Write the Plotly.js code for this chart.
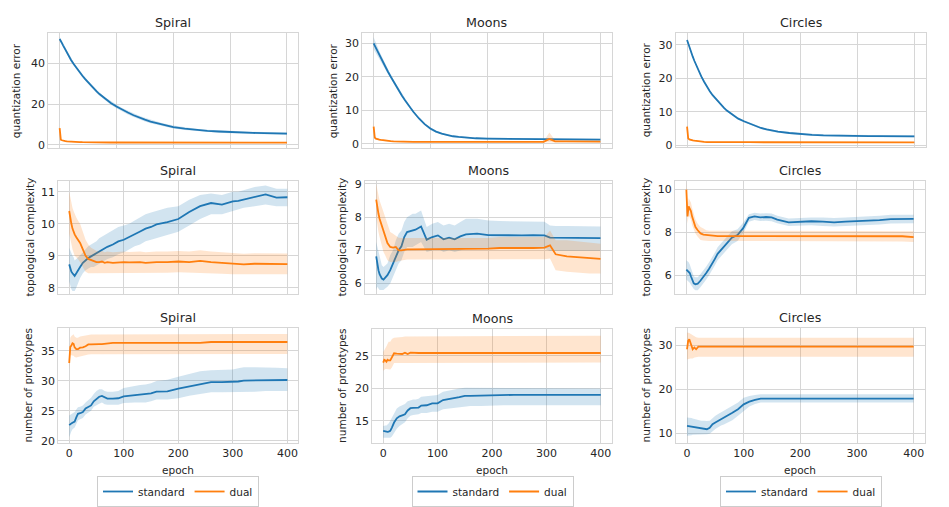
<!DOCTYPE html>
<html>
<head>
<meta charset="utf-8">
<script src="https://cdn.plot.ly/plotly-3.0.1.min.js"></script>
<style>
  html, body { margin: 0; padding: 0; background: #fff; }
  #chart { width: 949px; height: 507px; }
</style>
</head>
<body>
<div id="chart"></div>
<script>
// ============================================================================
// 3x3 grid: quantization error / topological complexity / number of prototypes
// for the Spiral, Moons and Circles datasets, standard vs dual, mean line with
// a shaded spread band. Values at the epochs
// listed in EPOCH.
// ============================================================================

const EPOCH = [0, 2, 4, 6, 8, 10, 13, 16, 20, 25, 30, 35, 40, 45, 50, 55, 60, 65, 70, 80, 90, 100, 110, 120, 130, 140, 150, 160, 180, 200, 220, 240, 260, 280, 300, 310, 320, 340, 360, 380, 400];
const X_TICKS = [0, 100, 200, 300, 400];

// --- quantization error ---
const spiralQeStd   = [52, 51.2, 50, 48.9, 47.8, 46.8, 45.3, 43.9, 41.7, 39.6, 37.6, 35.7, 34, 32.3, 30.7, 29.2, 27.7, 26.3, 25, 22.6, 20.6, 18.9, 17.3, 15.9, 14.6, 13.4, 12.4, 11.5, 10, 8.8, 8, 7.4, 6.9, 6.6, 6.3, 6.2, 6.1, 5.9, 5.8, 5.7, 5.6];
const spiralQeStdLo = [51, 50.4, 49.3, 48.2, 47.1, 46.1, 44.6, 43.1, 40.9, 38.8, 36.8, 34.9, 33.2, 31.5, 29.9, 28.4, 26.9, 25.5, 24.2, 21.8, 19.7, 18, 16.4, 15, 13.7, 12.5, 11.5, 10.6, 9.2, 8.1, 7.3, 6.8, 6.3, 6, 5.7, 5.6, 5.5, 5.3, 5.2, 5.1, 5];
const spiralQeStdHi = [53, 52, 50.7, 49.6, 48.5, 47.5, 46, 44.7, 42.5, 40.4, 38.4, 36.5, 34.8, 33.1, 31.5, 30, 28.5, 27.1, 25.8, 23.4, 21.5, 19.8, 18.2, 16.8, 15.5, 14.3, 13.3, 12.4, 10.8, 9.5, 8.7, 8, 7.5, 7.2, 6.9, 6.8, 6.7, 6.5, 6.4, 6.3, 6.2];
const spiralQeDual   = [8.3, 2.6, 2.3, 2.1, 2, 1.9, 1.8, 1.7, 1.6, 1.5, 1.45, 1.4, 1.35, 1.3, 1.3, 1.25, 1.25, 1.2, 1.2, 1.2, 1.2, 1.2, 1.2, 1.2, 1.2, 1.2, 1.2, 1.2, 1.2, 1.2, 1.2, 1.15, 1.15, 1.15, 1.15, 1.15, 1.1, 1.1, 1.1, 1.1, 1.1];
const spiralQeDualLo = [7.3, 2.2, 2, 1.8, 1.7, 1.6, 1.5, 1.45, 1.35, 1.3, 1.25, 1.2, 1.15, 1.1, 1.1, 1.05, 1.05, 1, 1, 1, 1, 1, 1, 1, 1, 1, 1, 1, 1, 1, 1, 0.95, 0.95, 0.95, 0.95, 0.95, 0.9, 0.9, 0.9, 0.9, 0.9];
const spiralQeDualHi = [9.3, 3, 2.6, 2.4, 2.3, 2.2, 2.1, 1.95, 1.85, 1.7, 1.65, 1.6, 1.55, 1.5, 1.5, 1.45, 1.45, 1.4, 1.4, 1.4, 1.4, 1.4, 1.4, 1.4, 1.4, 1.4, 1.4, 1.4, 1.4, 1.4, 1.4, 1.35, 1.35, 1.35, 1.35, 1.35, 1.3, 1.3, 1.3, 1.3, 1.3];

const moonsQeStd   = [30, 29.3, 28.6, 27.9, 27.2, 26.5, 25.5, 24.5, 23.2, 21.6, 20.1, 18.6, 17.2, 15.8, 14.4, 13.1, 11.9, 10.7, 9.6, 7.6, 5.9, 4.6, 3.7, 3.1, 2.6, 2.3, 2.1, 1.9, 1.7, 1.6, 1.55, 1.5, 1.45, 1.4, 1.4, 1.35, 1.35, 1.3, 1.3, 1.3, 1.3];
const moonsQeStdLo = [28.2, 27.7, 27.1, 26.5, 25.9, 25.3, 24.4, 23.5, 22.3, 20.8, 19.4, 18, 16.6, 15.3, 13.9, 12.7, 11.5, 10.4, 9.3, 7.3, 5.6, 4.2, 3.4, 2.8, 2.35, 2.05, 1.85, 1.65, 1.45, 1.35, 1.3, 1.25, 1.2, 1.15, 1.15, 1.1, 1.1, 1.05, 1.05, 1.05, 1.05];
const moonsQeStdHi = [31.8, 30.9, 30.1, 29.3, 28.5, 27.7, 26.6, 25.5, 24.1, 22.4, 20.8, 19.2, 17.8, 16.3, 14.9, 13.5, 12.3, 11, 9.9, 7.9, 6.2, 5, 4, 3.4, 2.85, 2.55, 2.35, 2.15, 1.95, 1.85, 1.8, 1.75, 1.7, 1.65, 1.65, 1.6, 1.6, 1.55, 1.55, 1.55, 1.55];
const moonsQeDual   = [5.2, 1.9, 1.6, 1.45, 1.35, 1.3, 1.2, 1.1, 1, 0.9, 0.85, 0.8, 0.75, 0.7, 0.7, 0.68, 0.66, 0.65, 0.64, 0.62, 0.6, 0.6, 0.6, 0.6, 0.6, 0.6, 0.6, 0.6, 0.6, 0.6, 0.6, 0.6, 0.6, 0.6, 0.62, 1.5, 0.8, 0.75, 0.72, 0.7, 0.7];
const moonsQeDualLo = [3.5, 1.5, 1.3, 1.2, 1.1, 1.05, 1, 0.9, 0.8, 0.72, 0.68, 0.63, 0.6, 0.55, 0.55, 0.53, 0.51, 0.5, 0.49, 0.47, 0.45, 0.45, 0.45, 0.45, 0.45, 0.45, 0.45, 0.45, 0.45, 0.45, 0.45, 0.45, 0.45, 0.45, 0.45, 0.6, 0.55, 0.55, 0.52, 0.5, 0.5];
const moonsQeDualHi = [7.2, 2.4, 1.95, 1.75, 1.6, 1.55, 1.4, 1.3, 1.2, 1.08, 1.02, 0.97, 0.9, 0.85, 0.85, 0.83, 0.81, 0.8, 0.79, 0.77, 0.75, 0.75, 0.75, 0.75, 0.75, 0.75, 0.75, 0.75, 0.75, 0.75, 0.75, 0.75, 0.75, 0.75, 0.8, 3.4, 1.1, 0.95, 0.92, 0.9, 0.9];

const circlesQeStd   = [31.5, 30.4, 29.4, 28.4, 27.5, 26.5, 25.2, 23.9, 22.3, 20.6, 19, 17.5, 16.2, 15, 14, 12.9, 12, 11.2, 10.4, 9.1, 8, 7.2, 6.5, 5.7, 5.2, 4.75, 4.4, 4.1, 3.7, 3.35, 3.15, 3, 2.9, 2.85, 2.8, 2.8, 2.78, 2.75, 2.72, 2.7, 2.7];
const circlesQeStdLo = [31.1, 30, 29, 28.1, 27.2, 26.2, 24.9, 23.6, 22, 20.3, 18.7, 17.2, 15.9, 14.7, 13.7, 12.6, 11.7, 10.9, 10.1, 8.8, 7.7, 6.9, 6.2, 5.4, 4.9, 4.45, 4.1, 3.8, 3.4, 3.05, 2.85, 2.7, 2.6, 2.55, 2.5, 2.5, 2.48, 2.45, 2.42, 2.4, 2.4];
const circlesQeStdHi = [31.9, 30.8, 29.8, 28.7, 27.8, 26.8, 25.5, 24.2, 22.6, 20.9, 19.3, 17.8, 16.5, 15.3, 14.3, 13.2, 12.3, 11.5, 10.7, 9.4, 8.3, 7.5, 6.8, 6, 5.5, 5.05, 4.7, 4.4, 4, 3.65, 3.45, 3.3, 3.2, 3.15, 3.1, 3.1, 3.08, 3.05, 3.02, 3, 3];
const circlesQeDual   = [5.6, 2.1, 1.8, 1.65, 1.55, 1.5, 1.4, 1.3, 1.2, 1.1, 1.05, 1, 0.98, 0.96, 0.95, 0.95, 0.95, 0.95, 0.95, 0.95, 0.95, 0.95, 0.95, 0.95, 0.95, 0.95, 0.95, 0.95, 0.95, 0.95, 0.95, 0.93, 0.93, 0.92, 0.92, 0.92, 0.91, 0.9, 0.9, 0.9, 0.9];
const circlesQeDualLo = [5, 1.9, 1.62, 1.48, 1.4, 1.35, 1.26, 1.16, 1.06, 0.96, 0.91, 0.86, 0.84, 0.82, 0.81, 0.81, 0.81, 0.81, 0.81, 0.81, 0.81, 0.81, 0.81, 0.81, 0.81, 0.81, 0.81, 0.81, 0.81, 0.81, 0.81, 0.79, 0.79, 0.78, 0.78, 0.78, 0.77, 0.76, 0.76, 0.76, 0.76];
const circlesQeDualHi = [6.3, 2.3, 1.98, 1.82, 1.7, 1.65, 1.54, 1.44, 1.34, 1.24, 1.19, 1.14, 1.12, 1.1, 1.09, 1.09, 1.09, 1.09, 1.09, 1.09, 1.09, 1.09, 1.09, 1.09, 1.09, 1.09, 1.09, 1.09, 1.09, 1.09, 1.09, 1.07, 1.07, 1.06, 1.06, 1.06, 1.05, 1.04, 1.04, 1.04, 1.04];

// --- topological complexity ---
const spiralTcStd   = [8.73, 8.6, 8.5, 8.45, 8.4, 8.37, 8.45, 8.55, 8.65, 8.78, 8.86, 8.93, 8.98, 9.03, 9.08, 9.14, 9.2, 9.25, 9.28, 9.35, 9.45, 9.5, 9.58, 9.68, 9.76, 9.85, 9.9, 9.98, 10.05, 10.15, 10.37, 10.55, 10.65, 10.6, 10.7, 10.72, 10.76, 10.86, 10.92, 10.82, 10.83];
const spiralTcStdLo = [8.2, 8.05, 7.95, 7.9, 7.9, 7.9, 8, 8.15, 8.3, 8.45, 8.55, 8.6, 8.65, 8.65, 8.7, 8.75, 8.8, 8.85, 8.9, 8.95, 9.05, 9.1, 9.2, 9.3, 9.35, 9.45, 9.5, 9.55, 9.65, 9.75, 9.95, 10.15, 10.3, 10.3, 10.4, 10.45, 10.5, 10.55, 10.6, 10.55, 10.55];
const spiralTcStdHi = [9.25, 9.15, 9.05, 9, 8.95, 8.85, 8.9, 8.95, 9, 9.1, 9.2, 9.3, 9.35, 9.4, 9.45, 9.55, 9.6, 9.65, 9.7, 9.8, 9.9, 9.95, 10, 10.1, 10.2, 10.3, 10.35, 10.4, 10.5, 10.55, 10.75, 10.9, 10.95, 10.9, 11, 11, 11.05, 11.15, 11.2, 11.1, 11.1];
const spiralTcDual   = [10.4, 10.15, 10, 9.85, 9.75, 9.67, 9.58, 9.5, 9.4, 9.2, 9, 8.9, 8.86, 8.83, 8.8, 8.8, 8.82, 8.78, 8.8, 8.78, 8.8, 8.8, 8.79, 8.8, 8.8, 8.78, 8.8, 8.8, 8.8, 8.82, 8.8, 8.84, 8.8, 8.78, 8.75, 8.74, 8.73, 8.75, 8.74, 8.75, 8.74];
const spiralTcDualLo = [9.7, 9.5, 9.35, 9.2, 9.1, 9, 8.95, 8.9, 8.8, 8.65, 8.5, 8.45, 8.45, 8.45, 8.45, 8.47, 8.47, 8.45, 8.47, 8.46, 8.47, 8.47, 8.46, 8.47, 8.47, 8.45, 8.47, 8.47, 8.47, 8.48, 8.47, 8.48, 8.46, 8.44, 8.42, 8.42, 8.41, 8.42, 8.42, 8.42, 8.42];
const spiralTcDualHi = [11, 10.8, 10.65, 10.5, 10.4, 10.3, 10.2, 10.1, 10, 9.75, 9.5, 9.35, 9.25, 9.2, 9.15, 9.13, 9.15, 9.11, 9.13, 9.11, 9.13, 9.13, 9.12, 9.13, 9.13, 9.11, 9.13, 9.13, 9.13, 9.15, 9.13, 9.17, 9.13, 9.11, 9.08, 9.07, 9.06, 9.08, 9.07, 9.08, 9.07];

const moonsTcStd   = [6.82, 6.55, 6.4, 6.28, 6.2, 6.15, 6.12, 6.18, 6.25, 6.4, 6.6, 6.82, 7, 7.12, 7.4, 7.55, 7.57, 7.6, 7.62, 7.72, 7.32, 7.4, 7.45, 7.33, 7.38, 7.33, 7.42, 7.48, 7.5, 7.46, 7.45, 7.46, 7.45, 7.46, 7.45, 7.38, 7.38, 7.38, 7.37, 7.37, 7.37];
const moonsTcStdLo = [5.8, 5.9, 5.85, 5.8, 5.8, 5.8, 5.8, 5.85, 5.9, 6, 6.2, 6.4, 6.6, 6.7, 6.95, 7.1, 7.1, 7.1, 7.15, 7.25, 6.95, 7, 7.05, 6.95, 7, 6.95, 7, 7.05, 7.05, 7.05, 7.05, 7.05, 7.05, 7.05, 7.05, 6.98, 6.98, 6.98, 6.98, 6.98, 6.98];
const moonsTcStdHi = [7.25, 7.1, 6.95, 6.8, 6.65, 6.55, 6.5, 6.55, 6.6, 6.85, 7, 7.3, 7.5, 7.6, 7.85, 8, 8.05, 8.1, 8.1, 8.2, 7.7, 7.8, 7.85, 7.75, 7.8, 7.75, 7.85, 7.95, 7.95, 7.9, 7.88, 7.88, 7.86, 7.86, 7.86, 7.75, 7.73, 7.73, 7.72, 7.72, 7.72];
const moonsTcDual   = [8.53, 8.25, 8.1, 7.95, 7.85, 7.7, 7.55, 7.42, 7.22, 7.1, 7.08, 7.1, 7, 7, 7.02, 7.03, 7.03, 7.03, 7.03, 7.04, 7.04, 7.04, 7.04, 7.05, 7.04, 7.05, 7.05, 7.05, 7.05, 7.05, 7.07, 7.08, 7.07, 7.07, 7.08, 7.15, 6.88, 6.82, 6.8, 6.77, 6.74];
const moonsTcDualLo = [8, 7.7, 7.55, 7.4, 7.25, 7.1, 6.95, 6.85, 6.7, 6.65, 6.65, 6.65, 6.68, 6.7, 6.72, 6.72, 6.72, 6.72, 6.72, 6.72, 6.72, 6.72, 6.72, 6.72, 6.72, 6.72, 6.72, 6.72, 6.72, 6.72, 6.73, 6.73, 6.73, 6.73, 6.73, 6.75, 6.4, 6.35, 6.32, 6.3, 6.3];
const moonsTcDualHi = [9, 8.8, 8.65, 8.5, 8.4, 8.3, 8.15, 8, 7.75, 7.55, 7.5, 7.45, 7.38, 7.37, 7.37, 7.37, 7.37, 7.37, 7.37, 7.37, 7.37, 7.37, 7.37, 7.37, 7.37, 7.37, 7.37, 7.37, 7.37, 7.37, 7.4, 7.4, 7.4, 7.4, 7.4, 7.6, 7.3, 7.3, 7.27, 7.25, 7.2];

const circlesTcStd   = [6.26, 6.22, 6.15, 6.1, 5.95, 5.8, 5.62, 5.57, 5.6, 5.75, 5.9, 6.1, 6.3, 6.5, 6.75, 7, 7.15, 7.35, 7.5, 7.75, 7.88, 8.2, 8.68, 8.75, 8.7, 8.72, 8.7, 8.6, 8.47, 8.5, 8.52, 8.5, 8.47, 8.5, 8.52, 8.55, 8.55, 8.57, 8.62, 8.63, 8.63];
const circlesTcStdLo = [5.8, 5.75, 5.7, 5.65, 5.55, 5.45, 5.35, 5.3, 5.3, 5.45, 5.6, 5.8, 6, 6.2, 6.45, 6.7, 6.85, 7.05, 7.2, 7.45, 7.6, 7.95, 8.5, 8.58, 8.53, 8.55, 8.52, 8.43, 8.3, 8.32, 8.33, 8.3, 8.27, 8.3, 8.32, 8.35, 8.35, 8.37, 8.42, 8.43, 8.43];
const circlesTcStdHi = [6.7, 6.65, 6.6, 6.5, 6.35, 6.15, 5.95, 5.9, 5.9, 6.05, 6.2, 6.4, 6.6, 6.8, 7.05, 7.3, 7.45, 7.65, 7.8, 8.05, 8.15, 8.45, 8.85, 8.92, 8.88, 8.9, 8.88, 8.78, 8.65, 8.68, 8.7, 8.7, 8.67, 8.7, 8.72, 8.75, 8.76, 8.78, 8.82, 8.83, 8.83];
const circlesTcDual   = [10, 8.75, 9.22, 9.1, 9, 8.75, 8.5, 8.25, 8.1, 7.95, 7.9, 7.88, 7.86, 7.84, 7.83, 7.83, 7.83, 7.83, 7.83, 7.83, 7.83, 7.83, 7.83, 7.82, 7.83, 7.83, 7.83, 7.82, 7.83, 7.83, 7.83, 7.83, 7.83, 7.84, 7.83, 7.83, 7.83, 7.83, 7.82, 7.82, 7.78];
const circlesTcDualLo = [9.5, 8.4, 8.8, 8.7, 8.6, 8.35, 8.15, 7.95, 7.8, 7.65, 7.62, 7.6, 7.6, 7.6, 7.6, 7.6, 7.6, 7.6, 7.6, 7.6, 7.6, 7.6, 7.6, 7.6, 7.6, 7.6, 7.6, 7.6, 7.6, 7.6, 7.6, 7.6, 7.6, 7.6, 7.6, 7.6, 7.6, 7.6, 7.58, 7.58, 7.55];
const circlesTcDualHi = [10.4, 9.2, 9.6, 9.5, 9.4, 9.15, 8.85, 8.6, 8.4, 8.25, 8.18, 8.1, 8.08, 8.08, 8.07, 8.07, 8.07, 8.07, 8.07, 8.07, 8.07, 8.07, 8.07, 8.07, 8.07, 8.07, 8.07, 8.07, 8.07, 8.07, 8.07, 8.07, 8.07, 8.08, 8.07, 8.07, 8.07, 8.07, 8.06, 8.06, 8.05];

// --- number of prototypes ---
const spiralNpStd   = [22.6, 22.8, 22.9, 23, 23.1, 23.2, 23.9, 24.5, 24.6, 24.8, 25.4, 25.7, 25.9, 26.6, 27, 27.35, 27.5, 27.2, 27.05, 27.05, 27.1, 27.4, 27.5, 27.6, 27.65, 27.7, 27.9, 28.2, 28.25, 28.7, 29.1, 29.5, 29.8, 29.8, 29.8, 29.9, 30.05, 30.05, 30.15, 30.15, 30.15];
const spiralNpStdLo = [20.6, 21.2, 21.6, 21.9, 22.1, 22.2, 22.8, 23.4, 23.6, 23.8, 24.4, 24.7, 25, 25.7, 26, 26.2, 26.4, 26.1, 26, 26, 26, 26.3, 26.4, 26.4, 26.4, 26.4, 26.6, 26.9, 26.9, 27.1, 27.5, 27.8, 28.1, 28.1, 28.1, 28.2, 28.2, 28.2, 28.3, 28.3, 28.3];
const spiralNpStdHi = [24.2, 24.3, 24.4, 24.5, 24.6, 24.8, 25.2, 25.6, 25.7, 25.9, 26.4, 26.8, 27.2, 27.8, 28.3, 28.6, 28.6, 28.3, 28.2, 28.2, 28.3, 28.8, 29, 29.2, 29.3, 29.4, 29.6, 30, 30.2, 30.7, 31.2, 31.6, 31.8, 31.8, 31.9, 32.1, 32.3, 32.3, 32.3, 32.2, 32.1];
const spiralNpDual   = [33, 35.7, 35.9, 36.3, 36.2, 35.6, 35.3, 35.3, 35.55, 35.6, 35.8, 36.1, 36.1, 36.15, 36.15, 36.15, 36.15, 36.2, 36.35, 36.35, 36.35, 36.35, 36.35, 36.35, 36.35, 36.35, 36.35, 36.35, 36.35, 36.35, 36.35, 36.35, 36.5, 36.5, 36.5, 36.5, 36.5, 36.5, 36.5, 36.5, 36.5];
const spiralNpDualLo = [31.8, 34.3, 34.3, 34.3, 34.2, 34, 33.9, 34, 34.1, 34.2, 34.3, 34.4, 34.45, 34.45, 34.45, 34.45, 34.45, 34.45, 34.45, 34.45, 34.45, 34.45, 34.45, 34.45, 34.45, 34.45, 34.45, 34.45, 34.45, 34.45, 34.45, 34.45, 34.5, 34.5, 34.5, 34.5, 34.5, 34.5, 34.5, 34.5, 34.5];
const spiralNpDualHi = [34.5, 37.2, 37.5, 37.7, 37.8, 37.4, 37.2, 37.2, 37.4, 37.5, 37.6, 37.7, 37.75, 37.75, 37.75, 37.75, 37.75, 37.75, 37.75, 37.75, 37.75, 37.75, 37.75, 37.75, 37.75, 37.75, 37.75, 37.75, 37.75, 37.75, 37.75, 37.75, 37.85, 37.85, 37.85, 37.85, 37.85, 37.85, 37.85, 37.85, 37.85];

const moonsNpStd   = [13.46, 13.4, 13.35, 13.3, 13.3, 13.35, 13.46, 13.97, 14.74, 15.4, 15.7, 15.85, 16, 16.6, 16.95, 17, 17.02, 17.05, 17.35, 17.4, 17.7, 17.7, 18.2, 18.3, 18.5, 18.65, 18.85, 18.85, 18.9, 19, 19, 19, 19, 19, 19, 19, 19, 19, 19, 19, 19];
const moonsNpStdLo = [12.4, 12.4, 12.4, 12.3, 12.3, 12.3, 12.4, 12.6, 13.2, 13.8, 14.2, 14.5, 14.8, 15.4, 15.8, 15.9, 15.9, 16, 16.2, 16.2, 16.4, 16.4, 16.8, 16.9, 17, 17.1, 17.3, 17.3, 17.3, 17.4, 17.4, 17.4, 17.4, 17.4, 17.4, 17.4, 17.4, 17.4, 17.4, 17.4, 17.4];
const moonsNpStdHi = [14.2, 14.3, 14.3, 14.3, 14.4, 14.6, 15, 15.5, 16.3, 16.9, 17.2, 17.4, 17.6, 18, 18.2, 18.3, 18.3, 18.4, 18.7, 18.8, 19, 19, 19.5, 19.7, 19.9, 20, 20.1, 20.1, 20.1, 20, 20, 20, 20, 20, 20, 20, 20, 20, 20, 20, 20];
const moonsNpDual   = [23.97, 24.4, 24.3, 24.1, 24.4, 24.3, 24.3, 24.7, 25.4, 25.35, 25.3, 25.3, 25.5, 25.3, 25.5, 25.45, 25.45, 25.45, 25.45, 25.45, 25.45, 25.45, 25.45, 25.45, 25.45, 25.45, 25.45, 25.45, 25.45, 25.45, 25.45, 25.45, 25.45, 25.45, 25.45, 25.45, 25.45, 25.45, 25.45, 25.45, 25.45];
const moonsNpDualLo = [22.7, 22.9, 23, 23, 23, 22.9, 22.9, 23.2, 23.9, 23.9, 23.9, 23.9, 24, 24, 24, 24, 24, 24, 24, 24, 24, 24, 24, 24, 24, 24, 24, 24, 24, 24, 24, 24, 24, 24, 24, 24, 24, 24, 24, 24, 24];
const moonsNpDualHi = [25.6, 26, 26.2, 26.5, 26.8, 27.2, 27.2, 27.6, 27.8, 27.8, 27.9, 27.9, 28, 28, 28.1, 28.1, 28.1, 28.1, 28.1, 28.1, 28.1, 28.1, 28.1, 28.1, 28.1, 28.1, 28.1, 28.1, 28.1, 28.1, 28.1, 28.1, 28.1, 28.1, 28.1, 28.1, 28.1, 28.1, 28.1, 28.1, 28.1];

const circlesNpStd   = [11.74, 11.7, 11.65, 11.6, 11.55, 11.5, 11.45, 11.36, 11.3, 11.25, 11.15, 10.95, 11.3, 12.1, 12.5, 12.9, 13.25, 13.6, 13.95, 14.7, 15.5, 16.6, 17.2, 17.6, 17.9, 17.9, 17.9, 17.9, 17.9, 17.9, 17.9, 17.9, 17.9, 17.9, 17.9, 17.9, 17.9, 17.9, 17.9, 17.9, 17.9];
const circlesNpStdLo = [9.5, 9.5, 9.6, 9.6, 9.6, 9.7, 9.7, 9.7, 9.8, 9.8, 9.85, 9.8, 9.9, 10.5, 11, 11.4, 11.8, 12, 12.3, 13, 14, 15.1, 16.1, 16.7, 17, 17, 17, 17, 17, 17, 17, 17, 17, 17, 17, 17, 17, 17, 17, 17, 17];
const circlesNpStdHi = [13.6, 13.6, 13.6, 13.5, 13.5, 13.4, 13.3, 13.2, 13, 12.9, 12.9, 12.8, 12.9, 13.5, 14, 14.4, 14.8, 15.1, 15.5, 16.2, 17, 18.1, 18.5, 18.7, 18.9, 18.9, 18.9, 18.9, 18.9, 18.9, 18.9, 18.9, 18.9, 18.9, 18.9, 18.9, 18.9, 18.9, 18.9, 18.9, 18.9];
const circlesNpDual   = [29.1, 31, 31.36, 30.6, 29.5, 29.1, 29.5, 29.1, 29.7, 29.7, 29.7, 29.7, 29.7, 29.7, 29.7, 29.7, 29.7, 29.7, 29.7, 29.7, 29.7, 29.7, 29.7, 29.7, 29.7, 29.7, 29.7, 29.7, 29.7, 29.7, 29.7, 29.7, 29.7, 29.7, 29.7, 29.7, 29.7, 29.7, 29.7, 29.7, 29.7];
const circlesNpDualLo = [26.8, 26.9, 27, 27, 27, 27, 27.2, 27.3, 27.4, 27.4, 27.4, 27.4, 27.4, 27.4, 27.4, 27.4, 27.4, 27.4, 27.4, 27.4, 27.4, 27.4, 27.4, 27.4, 27.4, 27.4, 27.4, 27.4, 27.4, 27.4, 27.4, 27.4, 27.4, 27.4, 27.4, 27.4, 27.4, 27.4, 27.4, 27.4, 27.4];
const circlesNpDualHi = [32.9, 32.9, 32.8, 32.6, 32.4, 32.2, 32, 31.8, 31.7, 31.7, 31.7, 31.7, 31.7, 31.7, 31.7, 31.7, 31.7, 31.7, 31.7, 31.7, 31.7, 31.7, 31.7, 31.7, 31.7, 31.7, 31.7, 31.7, 31.7, 31.7, 31.7, 31.7, 31.7, 31.7, 31.7, 31.7, 31.7, 31.7, 31.7, 31.7, 31.7];

// ----------------------------------------------------------------------------
// Layout: plot boxes in pixels [left, right, top, bottom], measured on the
// reference (rows do not share exactly the same left edge).
// ----------------------------------------------------------------------------
const W = 949, H = 507;
const FONT = 'DejaVu Sans, Verdana, sans-serif';
const TEXT = '#262626';
const GRID = '#d6d6d6';
const BLUE = '#1f77b4', ORANGE = '#ff7f0e';
const BLUE_BAND = 'rgba(31,119,180,0.2)', ORANGE_BAND = 'rgba(255,127,14,0.2)';

const PANELS = [
  { title: 'Spiral',  ylabel: 'quantization error', std: [spiralQeStd, spiralQeStdLo, spiralQeStdHi], dual: [spiralQeDual, spiralQeDualLo, spiralQeDualHi],
    yRange: [-1.5, 55], yTicks: [0, 20, 40], box: [48.3, 298.3, 33, 148.3], ylabelX: 16.7 },
  { title: 'Moons',   ylabel: 'quantization error', std: [moonsQeStd, moonsQeStdLo, moonsQeStdHi], dual: [moonsQeDual, moonsQeDualLo, moonsQeDualHi],
    yRange: [-1.2, 33], yTicks: [0, 10, 20, 30], box: [362.3, 611.7, 33.3, 148.3], ylabelX: 332.7 },
  { title: 'Circles', ylabel: 'quantization error', std: [circlesQeStd, circlesQeStdLo, circlesQeStdHi], dual: [circlesQeDual, circlesQeDualLo, circlesQeDualHi],
    yRange: [-0.6, 33.5], yTicks: [0, 10, 20, 30], box: [675.7, 925.7, 33.3, 147.7], ylabelX: 646 },

  { title: 'Spiral',  ylabel: 'topological complexity', std: [spiralTcStd, spiralTcStdLo, spiralTcStdHi], dual: [spiralTcDual, spiralTcDualLo, spiralTcDualHi],
    yRange: [7.79, 11.35], yTicks: [8, 9, 10, 11], box: [58.3, 298.3, 181, 295], ylabelX: 30 },
  { title: 'Moons',   ylabel: 'topological complexity', std: [moonsTcStd, moonsTcStdLo, moonsTcStdHi], dual: [moonsTcDual, moonsTcDualLo, moonsTcDualHi],
    yRange: [5.67, 9.1], yTicks: [6, 7, 8, 9], box: [365, 611.7, 181, 295], ylabelX: 342 },
  { title: 'Circles', ylabel: 'topological complexity', std: [circlesTcStd, circlesTcStdLo, circlesTcStdHi], dual: [circlesTcDual, circlesTcDualLo, circlesTcDualHi],
    yRange: [5.1, 10.42], yTicks: [6, 8, 10], box: [675, 925, 181, 295], ylabelX: 646 },

  { title: 'Spiral',  ylabel: 'number of prototypes', std: [spiralNpStd, spiralNpStdLo, spiralNpStdHi], dual: [spiralNpDual, spiralNpDualLo, spiralNpDualHi],
    yRange: [19.6, 38.9], yTicks: [20, 25, 30, 35], box: [58.3, 298.3, 328.3, 444], ylabelX: 28 },
  { title: 'Moons',   ylabel: 'number of prototypes', std: [moonsNpStd, moonsNpStdLo, moonsNpStdHi], dual: [moonsNpDual, moonsNpDualLo, moonsNpDualHi],
    yRange: [11.57, 29.2], yTicks: [15, 20, 25], box: [372.3, 611.7, 329.3, 444], ylabelX: 342 },
  { title: 'Circles', ylabel: 'number of prototypes', std: [circlesNpStd, circlesNpStdLo, circlesNpStdHi], dual: [circlesNpDual, circlesNpDualLo, circlesNpDualHi],
    yRange: [7.8, 34], yTicks: [10, 20, 30], box: [675.7, 925, 328.3, 444], ylabelX: 646 },
];

const LEGEND_CENTERS = [178, 492.5, 801];

const traces = [];
const annotations = [];
const layout = {
  width: W,
  height: H,
  margin: { l: 0, r: 0, t: 0, b: 0 },
  paper_bgcolor: '#ffffff',
  plot_bgcolor: '#ffffff',
  font: { family: FONT, size: 10.5, color: TEXT },
  hovermode: false,
};

PANELS.forEach((p, i) => {
  const sfx = i ? String(i + 1) : '';
  const xa = 'x' + sfx, ya = 'y' + sfx;
  const row = Math.floor(i / 3), col = i % 3;
  const legendId = 'legend' + (col ? String(col + 1) : '');
  const [l, r, t, b] = p.box;

  // same order as seaborn: "standard" band + line first, "dual" on top
  [['standard', p.std, BLUE, BLUE_BAND], ['dual', p.dual, ORANGE, ORANGE_BAND]].forEach(([name, [mean, lo, hi], color, band]) => {
    traces.push({ x: EPOCH, y: lo, xaxis: xa, yaxis: ya, type: 'scatter', mode: 'lines',
      line: { width: 0, color }, hoverinfo: 'skip', showlegend: false });
    traces.push({ x: EPOCH, y: hi, xaxis: xa, yaxis: ya, type: 'scatter', mode: 'lines',
      line: { width: 0, color }, fill: 'tonexty', fillcolor: band, hoverinfo: 'skip', showlegend: false });
    traces.push({ x: EPOCH, y: mean, xaxis: xa, yaxis: ya, type: 'scatter', mode: 'lines',
      line: { width: 1.8, color }, name, legend: legendId, showlegend: row === 2 });
  });

  const axisCommon = {
    showgrid: true, gridcolor: GRID, gridwidth: 1,
    showline: true, mirror: true, linecolor: GRID, linewidth: 1,
    zeroline: false, ticks: '', fixedrange: true,
    tickfont: { family: FONT, size: 11, color: TEXT },
  };
  layout['xaxis' + sfx] = { ...axisCommon, domain: [l / W, r / W], anchor: ya,
    range: [-20, 420], tickmode: 'array', tickvals: X_TICKS, showticklabels: row === 2 };
  layout['yaxis' + sfx] = { ...axisCommon, domain: [1 - b / H, 1 - t / H], anchor: xa,
    range: p.yRange, tickmode: 'array', tickvals: p.yTicks };

  annotations.push({ xref: 'paper', yref: 'paper', x: (l + r) / 2 / W, y: 1 - (t - 10.5) / H,
    xanchor: 'center', yanchor: 'middle', showarrow: false, text: p.title,
    font: { family: FONT, size: 12.7, color: TEXT } });
  annotations.push({ xref: 'paper', yref: 'paper', x: p.ylabelX / W, y: 1 - (t + b) / 2 / H,
    xanchor: 'center', yanchor: 'middle', showarrow: false, textangle: -90, text: p.ylabel,
    font: { family: FONT, size: 10.5, color: TEXT } });
  if (row === 2) {
    annotations.push({ xref: 'paper', yref: 'paper', x: (l + r) / 2 / W, y: 1 - 470.7 / H,
      xanchor: 'center', yanchor: 'middle', showarrow: false, text: 'epoch',
      font: { family: FONT, size: 10.5, color: TEXT } });
  }
  layout[legendId] = {
    orientation: 'h', traceorder: 'normal',
    x: LEGEND_CENTERS[col] / W, xanchor: 'center', y: 1 - 492 / H, yanchor: 'middle',
    bgcolor: '#ffffff', bordercolor: '#cccccc', borderwidth: 1,
    font: { family: FONT, size: 10.5, color: TEXT },
  };
});

layout.annotations = annotations;

Plotly.newPlot('chart', traces, layout, { displayModeBar: false, staticPlot: true });
</script>
</body>
</html>
